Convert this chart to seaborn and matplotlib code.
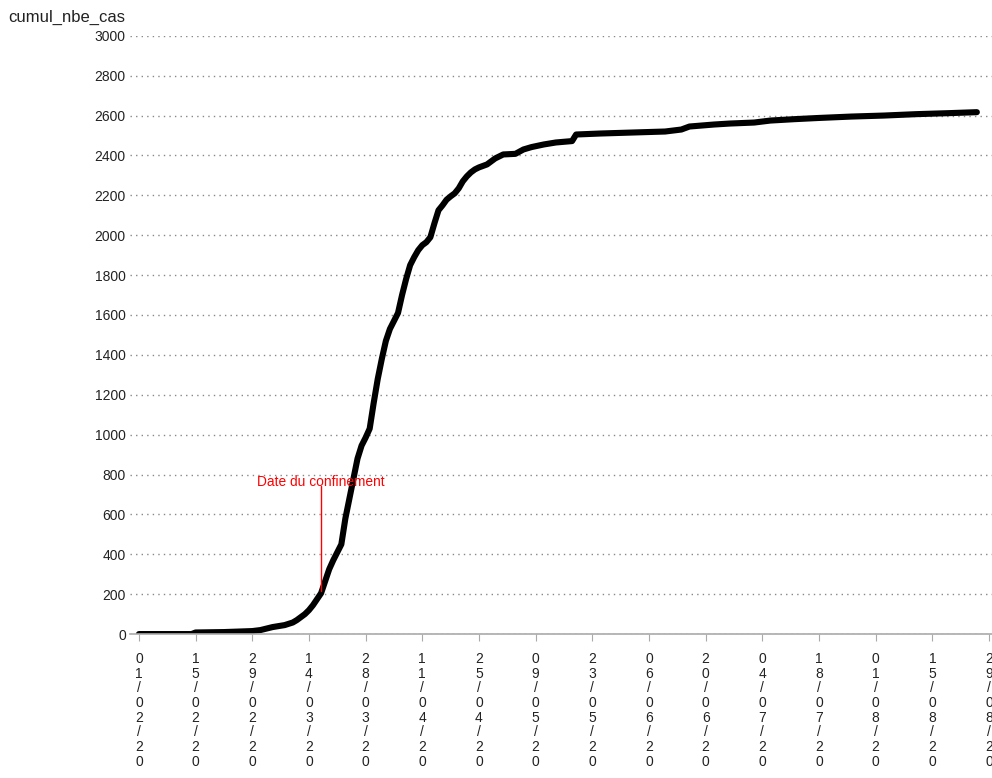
import seaborn as sns
import matplotlib
matplotlib.use("Agg")
import matplotlib.pyplot as plt
import pandas as pd

sns.set_style("white")
plt.rcParams['font.family'] = ['Liberation Sans', 'DejaVu Sans']

# cumulative cases (dd/mm/yy)
dates = ["01/02/20", "14/02/20", "15/02/20", "22/02/20", "29/02/20", "02/03/20",
         "05/03/20", "08/03/20", "10/03/20", "11/03/20", "12/03/20", "13/03/20",
         "14/03/20", "15/03/20", "16/03/20", "17/03/20", "18/03/20", "19/03/20",
         "20/03/20", "21/03/20", "22/03/20", "23/03/20", "24/03/20", "25/03/20",
         "26/03/20", "27/03/20", "28/03/20", "29/03/20", "30/03/20", "31/03/20",
         "01/04/20", "02/04/20", "03/04/20", "04/04/20", "05/04/20", "06/04/20",
         "07/04/20", "08/04/20", "09/04/20", "10/04/20", "11/04/20", "12/04/20",
         "13/04/20", "14/04/20", "15/04/20", "16/04/20", "17/04/20", "18/04/20",
         "19/04/20", "20/04/20", "21/04/20", "22/04/20", "23/04/20", "24/04/20",
         "25/04/20", "27/04/20", "29/04/20", "01/05/20", "04/05/20", "06/05/20",
         "08/05/20", "11/05/20", "14/05/20", "18/05/20", "19/05/20", "25/05/20",
         "02/06/20", "10/06/20", "14/06/20", "16/06/20", "22/06/20", "26/06/20",
         "02/07/20", "06/07/20", "12/07/20", "18/07/20", "26/07/20", "03/08/20",
         "11/08/20", "19/08/20", "26/08/20"]
cumul_nbe_cas = [0, 0, 8, 10, 15, 20,
                 35, 45, 58, 70, 85, 100,
                 120, 145, 175, 205, 265, 325,
                 370, 410, 450, 580, 680, 780,
                 880, 945, 985, 1030, 1160, 1280,
                 1380, 1470, 1530, 1570, 1610, 1700,
                 1780, 1850, 1890, 1925, 1950, 1965,
                 1990, 2060, 2125, 2150, 2178, 2195,
                 2210, 2235, 2270, 2295, 2315, 2330,
                 2340, 2355, 2385, 2405, 2408, 2430,
                 2442, 2455, 2465, 2472, 2505, 2510,
                 2515, 2520, 2530, 2545, 2555, 2560,
                 2565, 2575, 2582, 2588, 2595, 2600,
                 2607, 2612, 2617]

tick_dates = ["01/02/20", "15/02/20", "29/02/20", "14/03/20", "28/03/20",
              "11/04/20", "25/04/20", "09/05/20", "23/05/20", "06/06/20",
              "20/06/20", "04/07/20", "18/07/20", "01/08/20", "15/08/20",
              "29/08/20"]
y_ticks = list(range(0, 3001, 200))

confinement_date = "17/03/20"
confinement_low, confinement_high = 215, 740

df = pd.DataFrame({"date": pd.to_datetime(dates, format="%d/%m/%y"),
                   "cumul_nbe_cas": cumul_nbe_cas})

fig = plt.figure(figsize=(9.92, 7.78), dpi=100)
ax = fig.add_axes([0.131, 0.185, 0.869, 0.769])

sns.lineplot(data=df, x="date", y="cumul_nbe_cas", ax=ax, color="black",
             linewidth=4.4, solid_capstyle="round")

# confinement marker
cd = pd.to_datetime(confinement_date, format="%d/%m/%y")
ax.plot([cd, cd], [confinement_low, confinement_high], color="red", linewidth=1)
ax.text(cd, confinement_high - 12, "Date du confinement", color="red",
        fontsize=9.9, ha="center", va="bottom")

ax.set_ylim(0, 3000)
ax.set_xlim(pd.Timestamp("2020-02-01") - pd.Timedelta(days=2.22),
            pd.Timestamp("2020-08-29") + pd.Timedelta(days=0.74))
ax.set_yticks(y_ticks)
ax.set_yticklabels([str(v) for v in y_ticks], fontsize=10, color="#222222")
tick_pos = pd.to_datetime(tick_dates, format="%d/%m/%y")
ax.set_xticks(tick_pos)
ax.set_xticklabels(["\n".join(t) for t in tick_dates], fontsize=10,
                   color="#222222", linespacing=1.06)

ax.yaxis.grid(True, color="#888888", linestyle=(0, (1, 3)), linewidth=1)
ax.xaxis.grid(False)
for s in ["left", "right", "top"]:
    ax.spines[s].set_visible(False)
ax.spines["bottom"].set_color("#aaaaaa")
ax.spines["bottom"].set_linewidth(1.2)
ax.tick_params(axis="x", bottom=True, length=5, color="#aaaaaa", pad=8)
ax.tick_params(axis="y", left=False, length=0, pad=3)
ax.set_xlabel("")
ax.set_ylabel("")

fig.text(0.008, 0.977, "cumul_nbe_cas", fontsize=12, color="#222222",
         ha="left", va="center")

fig.savefig("out.png", dpi=100)
